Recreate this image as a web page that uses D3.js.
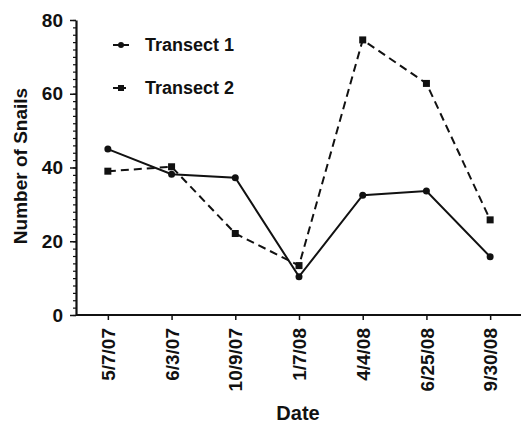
<!DOCTYPE html>
<html lang="en">
<head>
  <meta charset="UTF-8" />
  <title>Number of Snails</title>
  <script src="https://d3js.org/d3.v7.min.js"></script>
  <style>
    body { margin: 0; background: #fff; }
    svg { display: block; font-family: "Liberation Sans", Arial, sans-serif; }
    text { fill: #111; font-weight: bold; }
  </style>
</head>
<body>
  <svg width="521" height="423"></svg>
  <script>
    const dates = ["5/7/07", "6/3/07", "10/9/07", "1/7/08", "4/4/08", "6/25/08", "9/30/08"];
    const transect1 = [45.0, 38.2, 37.2, 10.4, 32.5, 33.6, 15.8];
    const transect2 = [39.0, 40.2, 22.1, 13.4, 74.6, 62.8, 25.8];
    const yTicks = [0, 20, 40, 60, 80];

    const svg = d3.select("svg");
    const axisX = 76, axisY = 315, plotTop = 20, plotRight = 522;

    const x = d3.scalePoint().domain(dates).range([axisX, plotRight]).padding(0.5);
    const y = d3.scaleLinear().domain([0, 80]).range([axisY, plotTop]);

    // minor ticks on y
    svg.append("g")
      .attr("transform", `translate(${axisX},0)`)
      .call(d3.axisLeft(y).tickValues(d3.range(0, 81, 2)).tickSize(3).tickFormat(""))
      .call(g => g.select(".domain").remove())
      .selectAll("line").attr("stroke", "#111").attr("stroke-width", 1.2);

    // major y axis
    svg.append("g")
      .attr("transform", `translate(${axisX},0)`)
      .call(d3.axisLeft(y).tickValues(yTicks).tickSize(6).tickPadding(7).tickSizeOuter(0))
      .call(g => g.select(".domain").attr("stroke", "#111").attr("stroke-width", 2.2))
      .call(g => g.selectAll("line").attr("stroke", "#111").attr("stroke-width", 1.5))
      .call(g => g.selectAll("text").attr("font-size", 19).attr("font-family", "Liberation Sans, Arial, sans-serif"));

    // x axis
    svg.append("g")
      .attr("transform", `translate(0,${axisY})`)
      .call(d3.axisBottom(x).tickSize(5).tickSizeOuter(0))
      .call(g => g.select(".domain").attr("d", `M${axisX},0H${plotRight}`).attr("stroke", "#111").attr("stroke-width", 2.2))
      .call(g => g.selectAll("line").attr("stroke", "#111").attr("stroke-width", 1.5))
      .call(g => g.selectAll("text")
        .attr("font-size", 19)
        .attr("font-family", "Liberation Sans, Arial, sans-serif")
        .attr("text-anchor", "end")
        .attr("transform", "rotate(-90)")
        .attr("x", -13).attr("y", 0).attr("dy", "0.35em"));

    const line = d3.line().x((d, i) => x(dates[i])).y(d => y(d));

    svg.append("path").datum(transect1)
      .attr("d", line).attr("fill", "none").attr("stroke", "#111").attr("stroke-width", 2);
    svg.append("path").datum(transect2)
      .attr("d", line).attr("fill", "none").attr("stroke", "#111").attr("stroke-width", 2)
      .attr("stroke-dasharray", "8,5");

    svg.append("g").selectAll("circle").data(transect1).join("circle")
      .attr("cx", (d, i) => x(dates[i])).attr("cy", d => y(d)).attr("r", 3.5).attr("fill", "#111");
    svg.append("g").selectAll("rect").data(transect2).join("rect")
      .attr("x", (d, i) => x(dates[i]) - 3.5).attr("y", d => y(d) - 3.5)
      .attr("width", 7).attr("height", 7).attr("fill", "#111");

    // legend
    const legend = [
      { name: "Transect 1", dash: null, shape: "circle", yPos: 45 },
      { name: "Transect 2", dash: "5,3", shape: "rect", yPos: 88 }
    ];
    legend.forEach(l => {
      const g = svg.append("g");
      g.append("line").attr("x1", 113).attr("x2", 129).attr("y1", l.yPos).attr("y2", l.yPos)
        .attr("stroke", "#111").attr("stroke-width", 2).attr("stroke-dasharray", l.dash);
      if (l.shape === "circle") {
        g.append("circle").attr("cx", 121).attr("cy", l.yPos).attr("r", 3).attr("fill", "#111");
      } else {
        g.append("rect").attr("x", 118).attr("y", l.yPos - 3).attr("width", 6).attr("height", 6).attr("fill", "#111");
      }
      g.append("text").attr("x", 145).attr("y", l.yPos).attr("dy", "0.35em")
        .attr("font-size", 18).text(l.name);
    });

    // axis titles
    svg.append("text")
      .attr("transform", "translate(27,166) rotate(-90)")
      .attr("text-anchor", "middle").attr("font-size", 19)
      .text("Number of Snails");
    svg.append("text")
      .attr("x", 298).attr("y", 420)
      .attr("text-anchor", "middle").attr("font-size", 20)
      .text("Date");
  </script>
</body>
</html>
